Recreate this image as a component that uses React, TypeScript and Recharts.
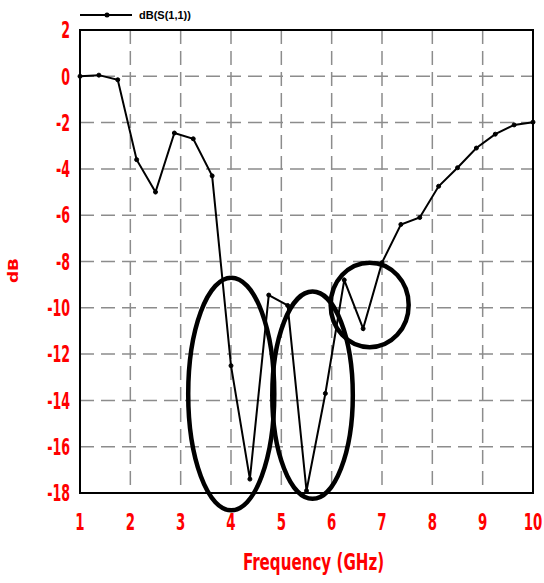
import React from 'react';
import { LineChart, Line, XAxis, YAxis, CartesianGrid, Legend, ReferenceArea } from 'recharts';

const freqGHz = [1, 1.375, 1.75, 2.125, 2.5, 2.875, 3.25, 3.625, 4, 4.375, 4.75, 5.125, 5.5, 5.875, 6.25, 6.625, 7, 7.375, 7.75, 8.125, 8.5, 8.875, 9.25, 9.625, 10];
const s11dB = [0, 0.05, -0.15, -3.6, -5.0, -2.45, -2.7, -4.3, -12.5, -17.4, -9.45, -9.9, -17.9, -13.7, -8.8, -10.9, -8.05, -6.4, -6.1, -4.75, -3.95, -3.1, -2.5, -2.1, -1.98];

const xTicks = [1, 2, 3, 4, 5, 6, 7, 8, 9, 10];
const yTicks = [-18, -16, -14, -12, -10, -8, -6, -4, -2, 0, 2];

// ellipse annotations, bounds in data units (GHz, dB)
const ellipses = [
  { x1: 3.15, x2: 4.86, y1: -18.75, y2: -8.7 },
  { x1: 4.82, x2: 6.42, y1: -18.25, y2: -9.3 },
  { x1: 5.98, x2: 7.53, y1: -11.7, y2: -8.05 },
];

const data = freqGHz.map((f, i) => ({ f, db: s11dB[i] }));

const RED = '#ff0000';
const NARROW = '"Liberation Sans Narrow", "DejaVu Sans Condensed", Arial, sans-serif';

const XTick = ({ x, y, payload }: any) => (
  <g transform={`translate(${x},${y}) scale(0.78,1.25)`}>
    <text x={0} y={0} dy="0.71em" textAnchor="middle" fill={RED} fontSize={19} fontWeight="bold" fontFamily={NARROW}>
      {payload.value}
    </text>
  </g>
);

const YTick = ({ x, y, payload }: any) => (
  <g transform={`translate(${x},${y}) scale(0.74,1.2)`}>
    <text x={0} y={0} dy="0.36em" textAnchor="end" fill={RED} fontSize={19} fontWeight="bold" fontFamily={NARROW}>
      {payload.value}
    </text>
  </g>
);

const XLabel = ({ viewBox }: any) => {
  const cx = viewBox.x + viewBox.width / 2 + 7;
  const by = viewBox.y + viewBox.height;
  return (
    <g transform={`translate(${cx},${by}) scale(0.8,1.1)`}>
      <text x={0} y={-6} textAnchor="middle" fill={RED} fontSize={21} fontWeight="bold" fontFamily={NARROW}>
        Frequency (GHz)
      </text>
    </g>
  );
};

const YLabel = ({ viewBox }: any) => {
  const cy = viewBox.y + viewBox.height / 2 + 9;
  return (
    <g transform={`translate(13,${cy}) rotate(-90) scale(1.35,1)`}>
      <text x={0} y={0} dy="0.36em" textAnchor="middle" fill={RED} fontSize={14} fontWeight="bold" fontFamily={NARROW}>
        dB
      </text>
    </g>
  );
};

const LegendContent = () => (
  <div style={{ display: 'flex', alignItems: 'center', height: 14 }}>
    <svg width={54} height={14}>
      <line x1={0} y1={7} x2={52} y2={7} stroke="#000" strokeWidth={2} />
      <circle cx={27} cy={7} r={2.5} fill="#000" />
    </svg>
    <span style={{ marginLeft: 5, fontSize: 11, fontWeight: 'bold', fontFamily: 'Liberation Sans, Arial, sans-serif', color: '#000' }}>
      dB(S(1,1))
    </span>
  </div>
);

const EllipseShape = (props: any) => {
  const { x, y, width, height } = props;
  return (
    <ellipse cx={x + width / 2} cy={y + height / 2} rx={Math.abs(width) / 2} ry={Math.abs(height) / 2}
      fill="none" stroke="#000" strokeWidth={4.5} />
  );
};

export default function App() {
  return (
    <div style={{ position: 'fixed', top: 0, left: 0, width: 544, height: 583, background: '#fff' }}>
      <LineChart width={544} height={583} data={data} margin={{ top: 16, right: 11, left: 0, bottom: 6 }}>
        <CartesianGrid stroke="#8c8c8c" strokeWidth={1.5} strokeDasharray="14 7" />
        <XAxis dataKey="f" type="number" domain={[1, 10]} ticks={xTicks} interval={0}
          axisLine={{ stroke: '#000', strokeWidth: 2 }} tickLine={false} tickSize={0} tickMargin={20}
          tick={<XTick />} height={84} label={<XLabel />} />
        <YAxis type="number" domain={[-18, 2]} ticks={yTicks} interval={0} width={80}
          axisLine={{ stroke: '#000', strokeWidth: 2 }} tickLine={false} tickSize={0} tickMargin={10}
          tick={<YTick />} label={<YLabel />} />
        <ReferenceArea x1={1} x2={10} y1={-18} y2={2} fill="none" stroke="#000" strokeWidth={2} ifOverflow="visible" />
        <Legend verticalAlign="top" content={<LegendContent />} wrapperStyle={{ top: 8, left: 80, width: 220, height: 14 }} />
        <Line type="linear" dataKey="db" stroke="#000" strokeWidth={2} isAnimationActive={false}
          dot={{ r: 2, fill: '#000', stroke: '#000', strokeWidth: 1 }} />
        {ellipses.map((e, i) => (
          <ReferenceArea key={i} x1={e.x1} x2={e.x2} y1={e.y1} y2={e.y2} ifOverflow="visible" shape={<EllipseShape />} />
        ))}
      </LineChart>
    </div>
  );
}
